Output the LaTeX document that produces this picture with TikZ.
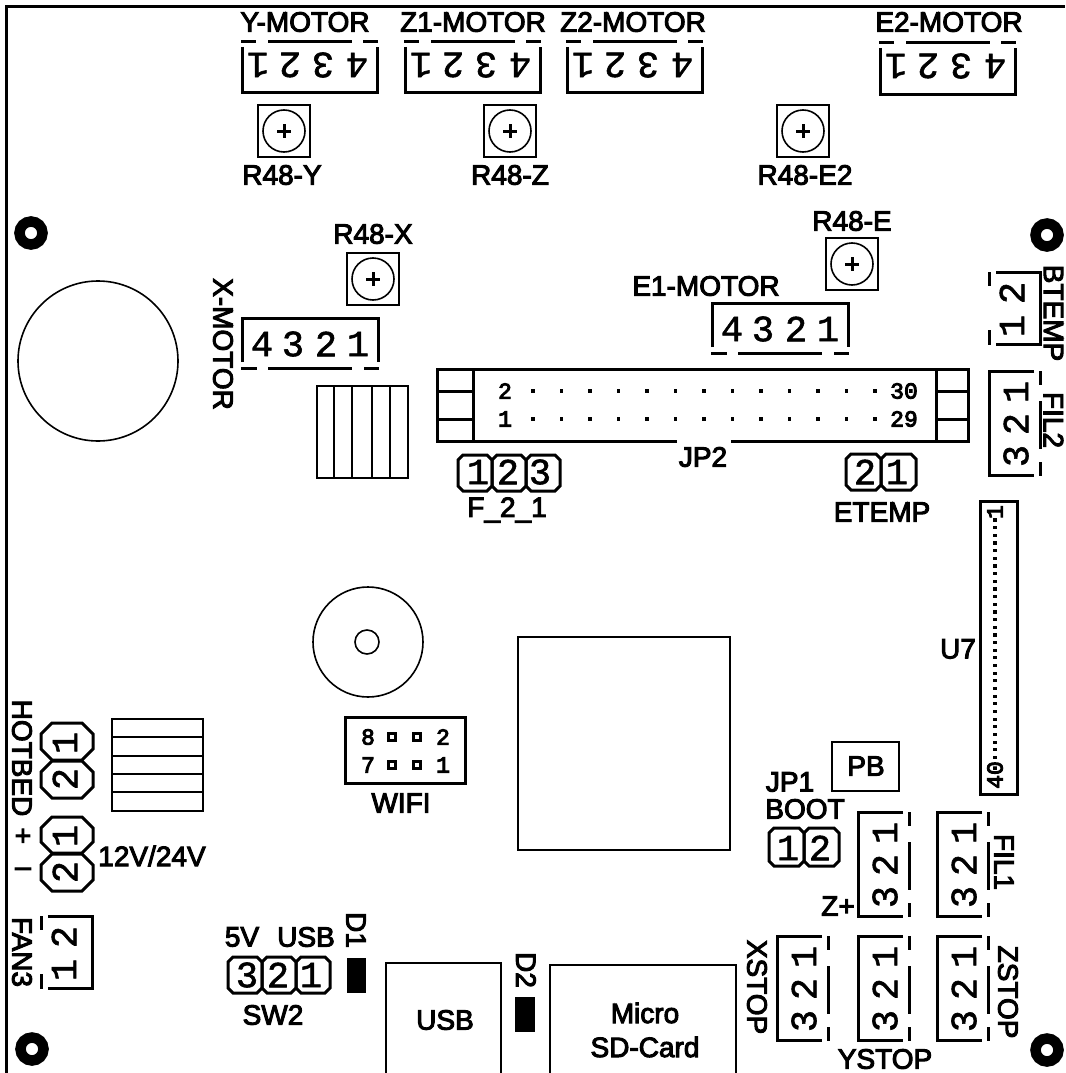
\documentclass[tikz,border=0pt]{standalone}
\usepackage{fontspec}
\newfontfamily\labfont[FakeBold=3.5]{Liberation Sans}
\newfontfamily\digfont[FakeBold=1.5]{Liberation Mono}
\newfontfamily\smallfont[FakeBold=4]{Liberation Mono}
\tikzset{
  thinl/.style={line width=1.6pt,draw=black},
  thickl/.style={line width=3pt,draw=black},
  lab/.style={inner sep=0pt,font=\labfont\fontsize{28}{28}\selectfont},
  dig/.style={inner sep=0pt,font=\digfont\fontsize{37}{37}\selectfont},
  tiny/.style={inner sep=0pt,font=\smallfont\fontsize{23}{23}\selectfont},
  pad/.style={line width=3.2pt,draw=black,fill=white,minimum size=7.5pt,inner sep=0pt}
}
% trimmer potentiometer
\newcommand{\pot}[2]{%
  \begin{scope}[shift={(#1,#2)}]
    \draw[thinl] (-26,-26) rectangle (26,26);
    \draw[thinl] (0,0) circle[radius=21pt];
    \draw[line width=3pt] (-7,0) -- (7,0) (0,-7) -- (0,7);
  \end{scope}}
% 4-pin connector, pin numbers upside down, key at top
\newcommand{\motordown}[3]{%
  \begin{scope}[shift={(#1,#2)}]
    \draw[thickl] (0,0) -- (15,0) (27,0) -- (111,0) (122,0) -- (137,0);
    \draw[thickl] (1,5) -- (1,#3) -- (136,#3) -- (136,5);
    \node[dig,rotate=180] at (17,23) {1};
    \node[dig,rotate=180] at (49,23) {2};
    \node[dig,rotate=180] at (82,23) {3};
    \node[dig,rotate=180] at (116,23) {4};
  \end{scope}}
% 4-pin connector, key at bottom
\newcommand{\motorup}[2]{%
  \begin{scope}[shift={(#1,#2)}]
    \draw[thickl] (0,44) -- (0,0) -- (136,0) -- (136,44);
    \draw[thickl] (-1,50) -- (15,50) (26,50) -- (110,50) (122,50) -- (137,50);
    \node[dig] at (20,26) {4};
    \node[dig] at (51,26) {3};
    \node[dig] at (84,26) {2};
    \node[dig] at (116,26) {1};
  \end{scope}}
% 3-pin vertical connector, key on the right
\newcommand{\vthree}[2]{%
  \begin{scope}[shift={(#1,#2)}]
    \draw[thickl] (45,0) -- (0,0) -- (0,104) -- (45,104);
    \draw[thickl] (51,0) -- (51,14) (51,30) -- (51,78) (51,91) -- (51,105);
    \node[dig,rotate=90] at (27,21) {1};
    \node[dig,rotate=90] at (27,53) {2};
    \node[dig,rotate=90] at (27,85) {3};
  \end{scope}}
% 2-pin vertical connector, key on the left
\newcommand{\vtwo}[2]{%
  \begin{scope}[shift={(#1,#2)}]
    \draw[thickl] (-44,0) -- (0,0) -- (0,72) -- (-44,72);
    \draw[thickl] (-51,0) -- (-51,14) (-51,58) -- (-51,73);
    \node[dig,rotate=90] at (-28,21) {2};
    \node[dig,rotate=90] at (-28,54) {1};
  \end{scope}}
% header cell, chamfered outline
\newcommand{\hcell}[5]{%
  \draw[thickl] (#1+#5,#3) -- (#2-#5,#3) -- (#2,#3+#5) -- (#2,#4-#5) -- (#2-#5,#4)
    -- (#1+#5,#4) -- (#1,#4-#5) -- (#1,#3+#5) -- cycle;}
% mounting hole
\newcommand{\hole}[2]{\draw[line width=10.5pt] (#1,#2) circle[radius=11.5pt];}
\begin{document}
\begin{tikzpicture}[x=1pt,y=-1pt]
\useasboundingbox (0,0) rectangle (1065,1073);
\fill[white] (0,0) rectangle (1065,1073);
% board edge
\draw[line width=2.4pt] (6.5,1073) -- (6.5,6.5) -- (1065,6.5);
% mounting holes
\hole{31}{233}\hole{1047}{235}\hole{32}{1049}\hole{1047}{1050}
% big circle and buzzer
\draw[thinl] (98,361) circle[radius=80pt];
\draw[thinl] (368,642) circle[radius=55pt];
\draw[thinl] (367,642) circle[radius=12pt];
% MCU
\draw[thinl] (518,637) rectangle (730,850);
% top motor connectors
\node[lab] (ymotor) at (305,22) {Y-MOTOR};
\node[lab] (zonemotor) at (473,22) {Z1-MOTOR};
\node[lab] (ztwomotor) at (633,22) {Z2-MOTOR};
\node[lab] (etwomotor) at (949,22) {E2-MOTOR};
\motordown{241}{42}{50}
\motordown{404}{42}{50}
\motordown{566}{42}{50}
\motordown{879}{43}{51}
% trimmers
\pot{284}{131}\pot{510}{131}\pot{803}{131}\pot{373}{279}\pot{852}{264}
\node[lab] (ry) at (282,175) {R48-Y};
\node[lab] (rz) at (510,175) {R48-Z};
\node[lab] (rez) at (805,175) {R48-E2};
\node[lab] (rx) at (373,234) {R48-X};
\node[lab] (re) at (852,221) {R48-E};
% X and E1 motor
\motorup{242}{318}
\motorup{712}{303}
\node[lab,rotate=-90] (xmotor) at (223,344) {X-MOTOR};
\node[lab] (eone) at (706,286) {E1-MOTOR};
% heat sink 1
\draw[thinl] (317,386) rectangle (408,478);
\draw[thinl] (334,386) -- (334,478) (352,386) -- (352,478) (372,386) -- (372,478) (390,386) -- (390,478);
% JP2
\draw[thickl] (677,441) -- (437,441) -- (437,369) -- (968,369) -- (968,441) -- (731,441);
\draw[thickl] (473,369) -- (473,441) (936,369) -- (936,441);
\draw[thickl] (437,391) -- (473,391) (437,419) -- (473,419) (936,391) -- (968,391) (936,419) -- (968,419);
\foreach \i in {0,...,12} {
  \fill ({533+28.5*\i-1.6},389.4) rectangle ++(3.2,3.2);
  \fill ({533+28.5*\i-1.6},417.4) rectangle ++(3.2,3.2);
}
\node[tiny] (jtwo) at (505,391) {2};
\node[tiny] (jone) at (505,419) {1};
\node[tiny] (jthirty) at (904,391) {30};
\node[tiny] (jtwentynine) at (904,419) {29};
\node[lab] (jp) at (703,457) {JP2};
% F_2_1
\hcell{458}{492}{455}{491}{5}\hcell{492}{526}{455}{491}{5}\hcell{526}{560}{455}{491}{5}
\node[dig] at (478,472) {1};
\node[dig] at (508,472) {2};
\node[dig] at (540,472) {3};
\node[lab] (ftwo) at (507,510) {F\_2\_1};
% ETEMP
\hcell{846}{881}{454}{490}{5}\hcell{881}{916}{454}{490}{5}
\node[dig] at (865,472) {2};
\node[dig] at (897,472) {1};
\node[lab] (etemp) at (882,512) {ETEMP};
% BTEMP, FIL2
\vtwo{1040}{272}
\node[lab,rotate=-90] (btemp) at (1053.5,313) {BTEMP};
\vthree{989}{371}
\node[lab,rotate=-90] (filtwo) at (1053.5,420) {FIL2};
% U7
\draw[thickl] (980,501) rectangle (1017,794);
\foreach \i in {0,...,31} {\fill ({995-1.6},{520+7.66*\i-1.6}) rectangle ++(3.2,3.2);}
\node[tiny,rotate=90] at (995,512) {1};
\node[tiny,rotate=90] at (995,775) {40};
\node[lab] (usev) at (958,649) {U7};
% WIFI
\draw[thickl] (345,717) rectangle (465,783);
\node[tiny] at (368,737) {8};
\node[tiny] at (368,765) {7};
\node[tiny] at (443,737) {2};
\node[tiny] at (443,765) {1};
\node[pad] at (392,737) {};
\node[pad] at (417,737) {};
\node[pad] at (392,765) {};
\node[pad] at (417,765) {};
\node[lab] (wifi) at (401,803) {WIFI};
% PB, JP1
\draw[thinl] (832,742) rectangle (899,791);
\node[lab] (pb) at (866,766) {PB};
\node[lab] (jpone) at (790,782) {JP1};
\node[lab] (boot) at (805,809) {BOOT};
\hcell{769}{804}{828}{866}{5}\hcell{804}{839}{828}{866}{5}
\node[dig] at (788,848) {1};
\node[dig] at (820,848) {2};
% lower right connectors
\vthree{858}{812}
\vthree{937}{812}
\vthree{777}{936}
\vthree{858}{936}
\vthree{937}{936}
\node[lab] (zplus) at (838,906) {Z+};
\node[lab,rotate=-90] (filone) at (1004,862) {FIL1};
\node[lab,rotate=-90] (xstop) at (757,987) {XSTOP};
\node[lab,rotate=-90] (zstop) at (1008,992) {ZSTOP};
\node[lab] (ystop) at (885,1059) {YSTOP};
% heat sink 2
\draw[thinl] (112,719) rectangle (203,811);
\draw[thinl] (112,737) -- (203,737) (112,756) -- (203,756) (112,774) -- (203,774) (112,792) -- (203,792);
% hotbed / power terminals
\hcell{41}{93}{723}{760}{11}\hcell{41}{93}{761}{798}{11}
\hcell{41}{93}{817}{853}{11}\hcell{41}{93}{854}{891}{11}
\node[dig,rotate=90] at (65,743) {1};
\node[dig,rotate=90] at (65,779) {2};
\node[dig,rotate=90] at (65,836) {1};
\node[dig,rotate=90] at (65,872) {2};
\node[lab,rotate=-90] (hotbed) at (22,758) {HOTBED};
\node[lab] (plus) at (23,837) {+};
\node[lab] (minus) at (23,872) {–};
\node[lab] (volt) at (152,856) {12V/24V};
% FAN3
\vtwo{92}{916}
\node[lab,rotate=-90] (fan) at (22,952) {FAN3};
% SW2, D1
\hcell{228}{262}{957}{993}{5}\hcell{262}{296}{957}{993}{5}\hcell{296}{330}{957}{993}{5}
\node[dig] at (247,975) {3};
\node[dig] at (278,975) {2};
\node[dig] at (311,975) {1};
\node[lab] (fivev) at (242,937) {5V};
\node[lab] (usbsw) at (306,937) {USB};
\node[lab] (sw) at (273,1015) {SW2};
\fill (347,958) rectangle (366,993);
\node[lab,rotate=-90] (done) at (356,930) {D1};
% USB, D2, card
\draw[thinl] (386,1073) -- (386,963) -- (501,963) -- (501,1073);
\node[lab] (usb) at (445,1020) {USB};
\fill (515,997) rectangle (535,1032);
\node[lab,rotate=-90] (dtwo) at (526,970) {D2};
\draw[thinl] (550,1073) -- (550,965) -- (736,965) -- (736,1073);
\node[lab] (micro) at (645,1013) {Micro};
\node[lab] (sd) at (645,1047) {SD-Card};
\end{tikzpicture}
\end{document}
